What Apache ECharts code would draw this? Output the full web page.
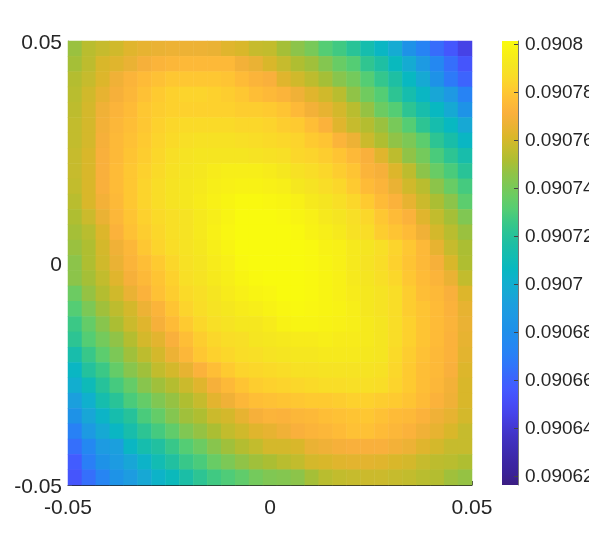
<!DOCTYPE html>
<html>
<head>
<meta charset="utf-8">
<script src="https://cdn.jsdelivr.net/npm/echarts@6/dist/echarts.min.js"></script>
<style>html,body{margin:0;padding:0;background:#fff}#c{width:589px;height:545px}</style>
</head>
<body>
<div id="c"></div>
<script>
// Cell values in millionths above 0.09 (745 means 0.090745), top row first.
const row00 = [748,754,757,759,763,765,766,767,767,767,766,763,761,757,756,750,745,740,731,727,721,713,705,698,682,672,663,655,645];
const row01 = [750,755,761,763,766,770,773,774,775,775,775,775,769,766,761,757,752,749,743,736,731,723,717,707,698,688,675,664,654];
const row02 = [753,757,762,768,773,776,778,780,780,780,780,779,776,773,771,763,759,755,750,744,739,731,724,717,706,697,682,668,660];
const row03 = [754,759,765,770,774,778,781,783,784,784,783,782,780,777,775,773,768,763,759,754,746,738,731,722,713,705,695,687,672];
const row04 = [755,760,768,773,776,780,782,783,783,783,783,783,782,782,781,779,775,769,765,760,754,747,737,731,722,714,706,697,683];
const row05 = [756,760,769,774,777,780,783,785,786,786,786,786,785,785,784,782,781,777,772,763,757,753,748,740,731,722,713,706,696];
const row06 = [756,760,770,775,778,781,784,786,788,789,789,789,788,787,786,785,784,781,779,773,767,758,752,746,741,733,722,715,705];
const row07 = [757,761,771,775,779,782,785,788,790,791,791,791,791,790,789,788,785,784,782,779,775,771,763,755,746,739,729,722,714];
const row08 = [757,761,771,776,780,783,786,789,791,792,794,795,795,795,794,792,789,787,785,782,779,773,770,762,755,745,736,729,721];
const row09 = [756,761,771,776,780,784,787,790,792,793,795,796,797,797,796,795,792,790,787,785,781,776,773,766,759,754,745,736,728];
const row10 = [754,761,769,775,780,784,787,790,792,794,796,798,800,800,799,798,796,793,791,788,785,781,776,772,765,758,751,745,733];
const row11 = [752,758,766,774,779,783,786,788,790,793,795,798,801,801,801,800,798,796,793,791,788,785,780,776,772,763,756,750,742];
const row12 = [750,754,762,772,778,782,785,788,790,793,796,799,801,801,801,801,800,797,795,793,789,787,782,779,776,768,760,754,748];
const row13 = [748,752,760,768,774,780,784,787,790,792,795,798,801,801,801,801,801,800,797,796,793,791,788,784,780,775,765,757,751];
const row14 = [745,752,759,766,773,777,781,785,789,791,794,796,800,801,801,801,801,800,798,796,793,790,787,783,779,775,770,761,752];
const row15 = [745,750,756,763,770,775,779,783,788,790,793,795,798,800,801,801,801,800,798,796,793,791,788,785,780,776,773,766,756];
const row16 = [737,747,753,759,766,772,778,782,786,788,791,794,796,798,799,801,801,800,798,796,794,792,790,787,782,777,775,771,762];
const row17 = [731,741,749,755,760,767,773,779,784,787,790,792,794,795,797,799,800,799,798,797,795,792,790,787,782,779,776,772,765];
const row18 = [726,735,744,751,758,763,770,776,781,785,788,790,792,792,794,797,798,798,797,796,795,793,791,787,783,779,776,773,766];
const row19 = [722,731,739,746,753,760,764,771,777,782,785,787,788,791,792,793,794,794,795,794,794,793,791,787,783,779,776,772,765];
const row20 = [714,725,733,741,749,755,760,767,774,780,783,785,787,788,790,791,792,792,793,793,793,792,791,786,782,778,775,772,764];
const row21 = [705,719,726,735,744,749,756,760,765,772,777,781,784,785,786,787,789,789,790,790,790,790,789,785,781,777,775,771,762];
const row22 = [700,709,720,728,735,744,749,753,758,763,770,775,779,782,783,784,785,786,787,787,788,788,787,784,781,777,774,769,761];
const row23 = [692,701,713,721,729,735,742,747,752,757,764,768,774,777,778,779,780,781,781,782,783,783,782,781,779,776,772,768,761];
const row24 = [682,695,704,713,720,729,735,743,749,752,758,760,765,770,773,772,774,775,777,778,779,780,778,776,775,772,768,765,760];
const row25 = [671,688,697,705,714,722,728,734,742,747,751,756,759,763,765,768,771,773,774,776,778,778,776,774,772,768,765,761,757];
const row26 = [664,675,689,692,705,713,718,725,731,737,744,749,753,756,760,760,761,766,768,770,771,771,771,769,767,763,760,757,757];
const row27 = [657,670,682,689,695,703,711,718,725,729,736,741,746,749,751,754,756,760,761,763,764,764,763,761,760,757,755,754,752];
const row28 = [654,664,673,683,690,696,703,708,716,722,727,730,734,739,742,743,745,750,754,756,757,758,758,757,756,754,753,749,747];
const rows = [row00,row01,row02,row03,row04,row05,row06,row07,row08,row09,row10,row11,row12,row13,row14,row15,row16,row17,row18,row19,row20,row21,row22,row23,row24,row25,row26,row27,row28];

const barTicks = [0.09062,0.09064,0.09066,0.09068,0.0907,0.09072,0.09074,0.09076,0.09078,0.0908];
const barMin = 0.09061625;
const barMax = 0.09080125;
const parula = ['#3c1e82','#3a2298','#3c26a5','#3e2cb4','#4132c3','#443ad7','#4644eb','#464ef8','#445aff','#3a67fc','#3076fa','#2882f5','#238af0','#1e91e8','#1e98e4','#1c9ede','#17a8d4','#10b0cd','#08b8c0','#12bcb2','#1cbea5','#2ac396','#3cc885','#55cd73','#69cc64','#7dc855','#91c346','#acbe32','#c3bc2d','#dab72a','#ebb234','#fab03c','#febc37','#fecb30','#fadb28','#f5e621','#f8f016','#f9fb0e'];

const cellData = [];
rows.forEach((r, y) => r.forEach((n, x) => cellData.push([x, y, 0.09 + n * 1e-6])));
const idx = rows.map((_, i) => i);
const ink = '#262626';
const face = '"Liberation Sans",sans-serif';
const barStops = parula.map((color, i) => ({offset: 1 - i / (parula.length - 1), color}));

const chart = echarts.init(document.getElementById('c'), null, {renderer: 'canvas'});
chart.setOption({
  animation: false,
  backgroundColor: '#fff',
  tooltip: {show: false},
  grid: [
    {left: 68, top: 41, width: 404, height: 444, outerBoundsMode: 'none'},
    {left: 502, top: 41, width: 16, height: 444, outerBoundsMode: 'none'}
  ],
  xAxis: [
    {type: 'category', gridIndex: 0, data: idx, show: false},
    {type: 'value', gridIndex: 0, min: -0.05, max: 0.05, interval: 0.05, position: 'bottom',
      axisLine: {show: true, onZero: false, lineStyle: {color: '#222', width: 1}},
      axisTick: {show: true, inside: true, length: 4, lineStyle: {color: '#444'}},
      splitLine: {show: false},
      axisLabel: {show: true, margin: 13, color: ink, fontFamily: face, fontSize: 21, showMinLabel: true, showMaxLabel: true,
        hideOverlap: false, formatter: v => String(+v.toFixed(2))}},
    {type: 'category', gridIndex: 1, data: ['bar'], show: false}
  ],
  yAxis: [
    {type: 'category', gridIndex: 0, data: idx, inverse: true, show: false},
    {type: 'value', gridIndex: 0, min: -0.05, max: 0.05, interval: 0.05, position: 'left',
      axisLine: {show: true, onZero: false, lineStyle: {color: '#999', width: 1}},
      axisTick: {show: true, inside: true, length: 4, lineStyle: {color: '#444'}},
      splitLine: {show: false},
      axisLabel: {show: true, margin: 6, verticalAlign: 'top', lineHeight: 5, color: ink, fontFamily: face, fontSize: 21, showMinLabel: true, showMaxLabel: true,
        hideOverlap: false, formatter: v => String(+v.toFixed(2))}},
    {type: 'value', gridIndex: 1, min: barMin, max: barMax, position: 'right', z: 10,
      axisLine: {show: true, onZero: false, lineStyle: {color: '#777', width: 1}},
      axisTick: {show: true, inside: true, length: 4, customValues: barTicks, lineStyle: {color: '#444'}},
      splitLine: {show: false},
      axisLabel: {show: true, margin: 7, verticalAlign: 'top', lineHeight: 2, color: ink, fontFamily: face, fontSize: 19, customValues: barTicks,
        hideOverlap: false, formatter: v => String(+v.toFixed(5))}}
  ],
  visualMap: {
    type: 'continuous', show: false, seriesIndex: 0, min: barMin, max: barMax,
    inRange: {color: parula}
  },
  series: [{
    type: 'heatmap', xAxisIndex: 0, yAxisIndex: 0, data: cellData, progressive: 0,
    itemStyle: {borderWidth: 0}, emphasis: {disabled: true}
  }, {
    type: 'bar', xAxisIndex: 2, yAxisIndex: 2, data: [barMax], barWidth: '100%', silent: true,
    itemStyle: {color: new echarts.graphic.LinearGradient(0, 0, 0, 1, barStops)}
  }]
});
</script>
</body>
</html>
